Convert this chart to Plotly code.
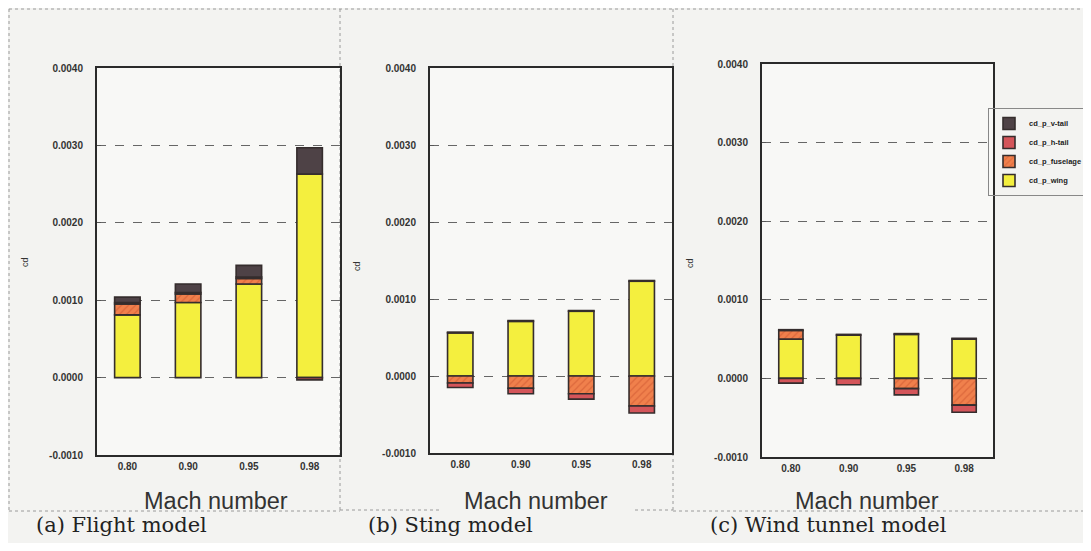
import plotly.graph_objects as go

# ---------------- data ----------------
mach = ["0.80", "0.90", "0.95", "0.98"]
series_names = ["cd_p_wing", "cd_p_fuselage", "cd_p_h-tail", "cd_p_v-tail"]

flight_wing = [0.00081, 0.00097, 0.00121, 0.00263]
flight_fuselage = [0.00014, 0.00011, 0.00007, 0.0]
flight_htail = [0.00002, 0.00002, 0.00002, -0.00003]
flight_vtail = [0.00007, 0.00011, 0.00015, 0.00034]

sting_wing = [0.00056, 0.00071, 0.00084, 0.00123]
sting_fuselage = [-0.00009, -0.00016, -0.00023, -0.00039]
sting_htail = [-0.00006, -0.00007, -0.00007, -0.00009]
sting_vtail = [0.00001, 0.00001, 0.00001, 0.00001]

wt_wing = [0.00050, 0.00055, 0.00056, 0.00050]
wt_fuselage = [0.00011, 0.0, -0.00013, -0.00034]
wt_htail = [-0.00006, -0.00008, -0.00008, -0.00009]
wt_vtail = [0.00001, 0.00001, 0.00001, 0.00001]

y_tickvals = [-0.001, 0.0, 0.001, 0.002, 0.003, 0.004]
y_ticktext = ["-0.0010", "0.0000", "0.0010", "0.0020", "0.0030", "0.0040"]

panel_titles = ["(a) Flight model", "(b) Sting model", "(c) Wind tunnel model"]

# ---------------- style ----------------
# the page body has an 8px default margin on every side
OFF = 8
W, H = 1091 - 2 * OFF, 551 - 2 * OFF
colors = {
    "cd_p_wing": "#f4ef3e",
    "cd_p_fuselage": "#f0804c",
    "cd_p_h-tail": "#d4555a",
    "cd_p_v-tail": "#4e4246",
}
patterns = {
    "cd_p_wing": None,
    "cd_p_fuselage": "/",
    "cd_p_h-tail": None,
    "cd_p_v-tail": None,
}

def px(x):
    return (x - OFF) / W

def py(y):
    return 1 - (y - OFF) / H

# plot boxes in window pixels: left, right, top, bottom
boxes = [(97, 340, 68, 455), (430, 672, 68, 453), (762, 993, 64, 457)]

panels = [
    (flight_wing, flight_fuselage, flight_htail, flight_vtail),
    (sting_wing, sting_fuselage, sting_htail, sting_vtail),
    (wt_wing, wt_fuselage, wt_htail, wt_vtail),
]

fig = go.Figure()

for i, data in enumerate(panels):
    xa = "x" if i == 0 else f"x{i+1}"
    ya = "y" if i == 0 else f"y{i+1}"
    for name, vals in zip(series_names, data):
        pat = patterns[name]
        marker = dict(color=colors[name], line=dict(color="#352d2d", width=1.6))
        if pat:
            marker["pattern"] = dict(shape=pat, fgcolor="#c8502c", size=5, solidity=0.25)
        fig.add_trace(go.Bar(
            x=mach, y=vals, name=name, xaxis=xa, yaxis=ya,
            marker=marker, width=0.42,
            legendgroup=name, showlegend=(i == 2),
        ))

axis_font = dict(family="Liberation Sans, Arial", size=10, color="#333", weight="bold")

layout = dict(
    width=W, height=H,
    margin=dict(l=0, r=0, t=0, b=0, autoexpand=False),
    paper_bgcolor="#f3f3f1",
    plot_bgcolor="#f8f8f6",
    barmode="relative",
    font=dict(family="Liberation Sans, Arial", color="#333"),
    legend=dict(
        x=px(988), y=py(108), xanchor="left", yanchor="top",
        traceorder="reversed",
        bgcolor="rgba(0,0,0,0)", bordercolor="#888", borderwidth=1,
        font=dict(family="Liberation Sans, Arial", size=7.5, color="#222", weight="bold"),
        itemwidth=30, tracegroupgap=0,
    ),
)

for i, (l, r, t, b) in enumerate(boxes):
    xk = "xaxis" if i == 0 else f"xaxis{i+1}"
    yk = "yaxis" if i == 0 else f"yaxis{i+1}"
    anchor_x = "y" if i == 0 else f"y{i+1}"
    anchor_y = "x" if i == 0 else f"x{i+1}"
    layout[xk] = dict(
        domain=[px(l), px(r)], anchor=anchor_x,
        type="category", range=[-0.5, 3.5],
        showline=True, linecolor="#2a2a2a", linewidth=2, mirror=True,
        showgrid=False, ticks="", tickfont=axis_font,
        ticklabelstandoff=1,
    )
    layout[yk] = dict(
        domain=[py(b), py(t)], anchor=anchor_y,
        range=[-0.001, 0.004],
        tickvals=y_tickvals, ticktext=y_ticktext,
        showline=True, linecolor="#2a2a2a", linewidth=2, mirror=True,
        showgrid=True, gridcolor="#666", gridwidth=1, griddash="dash",
        zeroline=False,
        ticks="inside", ticklen=4, tickcolor="#555",
        tickfont=axis_font, ticklabelstandoff=10,
    )

fig.update_layout(**layout)

annotations = []
# y axis titles "cd"
for xpos, ypos in [(25, 262), (357, 266), (690, 263)]:
    annotations.append(dict(
        x=px(xpos), y=py(ypos), xref="paper", yref="paper",
        xanchor="center", yanchor="middle",
        text="cd", showarrow=False, textangle=-90,
        font=dict(size=9, color="#333"),
    ))
# x axis titles
for xpos in [216, 536, 867]:
    annotations.append(dict(
        x=px(xpos), y=py(501), xref="paper", yref="paper",
        xanchor="center", yanchor="middle",
        text="Mach number", showarrow=False,
        font=dict(family="Liberation Sans, Arial", size=23.5, color="#333"),
    ))
# panel captions
for xpos, txt in zip([121, 450, 828], panel_titles):
    annotations.append(dict(
        x=px(xpos), y=py(525), xref="paper", yref="paper",
        xanchor="center", yanchor="middle",
        text=txt, showarrow=False,
        font=dict(family="DejaVu Serif, Liberation Serif", size=21, color="#222"),
    ))
fig.update_layout(annotations=annotations)

# panel frames (thin dotted lines)
frame = dict(color="#9a9a9a", width=1, dash="dot")
segments = [
    (9, 9, 1083, 9),      # top
    (9, 9, 9, 511),       # left of (a)
    (340, 9, 340, 511),   # divider a|b
    (673, 9, 673, 511),   # divider b|c
    (9, 511, 340, 511),   # bottom (a)
    (340, 510, 440, 510), # bottom (b) left part
    (635, 510, 673, 510), # bottom (b) right part
    (673, 511, 1083, 511),# bottom (c)
]
shapes = []
for x0, y0, x1, y1 in segments:
    shapes.append(dict(type="line", xref="paper", yref="paper",
                       x0=px(x0), y0=py(y0), x1=px(x1), y1=py(y1),
                       line=frame, layer="below"))
fig.update_layout(shapes=shapes)

fig.write_html("out.html")
